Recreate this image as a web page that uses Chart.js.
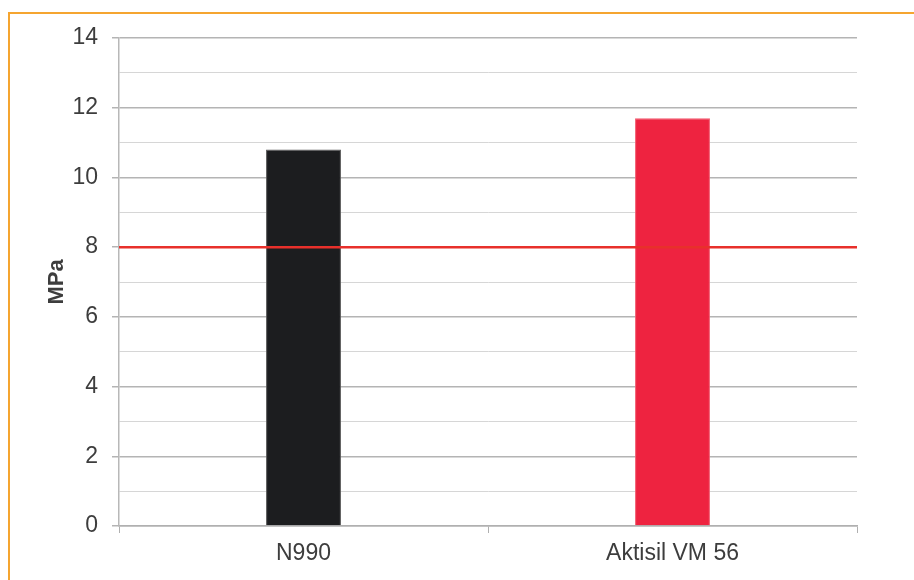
<!DOCTYPE html>
<html>
<head>
<meta charset="utf-8">
<script src="https://cdn.jsdelivr.net/npm/chart.js@4"></script>
<style>
  html, body { margin: 0; padding: 0; background: #fff; }
  #wrap { position: relative; width: 914px; height: 580px; overflow: hidden; }
  #frame {
    position: absolute; left: 8px; top: 12px; width: 1000px; height: 700px;
    border-left: 2px solid #F5A530; border-top: 2px solid #F5A530;
  }
  canvas { position: absolute; left: 0; top: 0; }
</style>
</head>
<body>
<div id="wrap">
  <div id="frame"></div>
  <canvas id="chart" width="914" height="580"></canvas>
</div>
<script>
// Data
const categories = ["N990", "Aktisil VM 56"];
const values = [10.8, 11.7];
const barColors = ["#1C1D1F", "#EE2340"];
const thresholdValue = 8;
const yTicks = [0, 2, 4, 6, 8, 10, 12, 14];

/* Horizontal requirement line, placed via the y scale */
const thresholdLine = {
  id: "thresholdLine",
  afterDatasetsDraw(chart) {
    const { ctx, chartArea, scales } = chart;
    const y = scales.y.getPixelForValue(thresholdValue);
    ctx.save();
    ctx.strokeStyle = "#E8302B";
    ctx.lineWidth = 2.5;
    ctx.beginPath();
    ctx.moveTo(chartArea.left, y);
    ctx.lineTo(chartArea.right, y);
    ctx.stroke();
    ctx.restore();
  },
};

const isMajor = (ctx) => ctx.tick && yTicks.includes(ctx.tick.value);

new Chart(document.getElementById("chart").getContext("2d"), {
  type: "bar",
  data: {
    labels: categories,
    datasets: [{
      data: values,
      backgroundColor: barColors,
      borderColor: ["#555", "#F25A6E"],
      borderWidth: 1,
      barPercentage: 0.203,
      categoryPercentage: 1,
    }],
  },
  options: {
    responsive: false,
    animation: false,
    layout: { padding: { left: 44, top: 38, right: 57, bottom: 10 } },
    plugins: { legend: { display: false }, tooltip: { enabled: false } },
    scales: {
      x: {
        afterFit: (s) => { s.height = 44; },
        border: { color: "#B0B0B0", width: 1.5 },
        grid: {
          offset: true,
          drawOnChartArea: false,
          color: "#B0B0B0",
          tickLength: 7,
        },
        ticks: {
          color: "#3D3D3D",
          padding: 7,
          font: { family: "Liberation Sans", size: 23 },
        },
      },
      y: {
        min: 0,
        max: 14,
        afterFit: (s) => { s.width = 75; },
        border: { color: "#B8B8B8", width: 1.5 },
        title: {
          display: true,
          text: "MPa",
          color: "#3D3D3D",
          padding: { top: 0, bottom: 10 },
          font: { family: "Liberation Sans", size: 22, weight: "bold" },
        },
        grid: {
          color: (ctx) => (isMajor(ctx) ? "#B4B4B4" : "#D6D6D6"),
          lineWidth: (ctx) => (isMajor(ctx) ? 1.5 : 1),
          tickColor: (ctx) => (isMajor(ctx) ? "#B4B4B4" : "rgba(0,0,0,0)"),
          tickLength: 7,
        },
        ticks: {
          stepSize: 1,
          color: "#3D3D3D",
          padding: 14,
          font: { family: "Liberation Sans", size: 23 },
          callback: (v) => (yTicks.includes(v) ? v : ""),
        },
      },
    },
  },
  plugins: [thresholdLine],
});
</script>
</body>
</html>
